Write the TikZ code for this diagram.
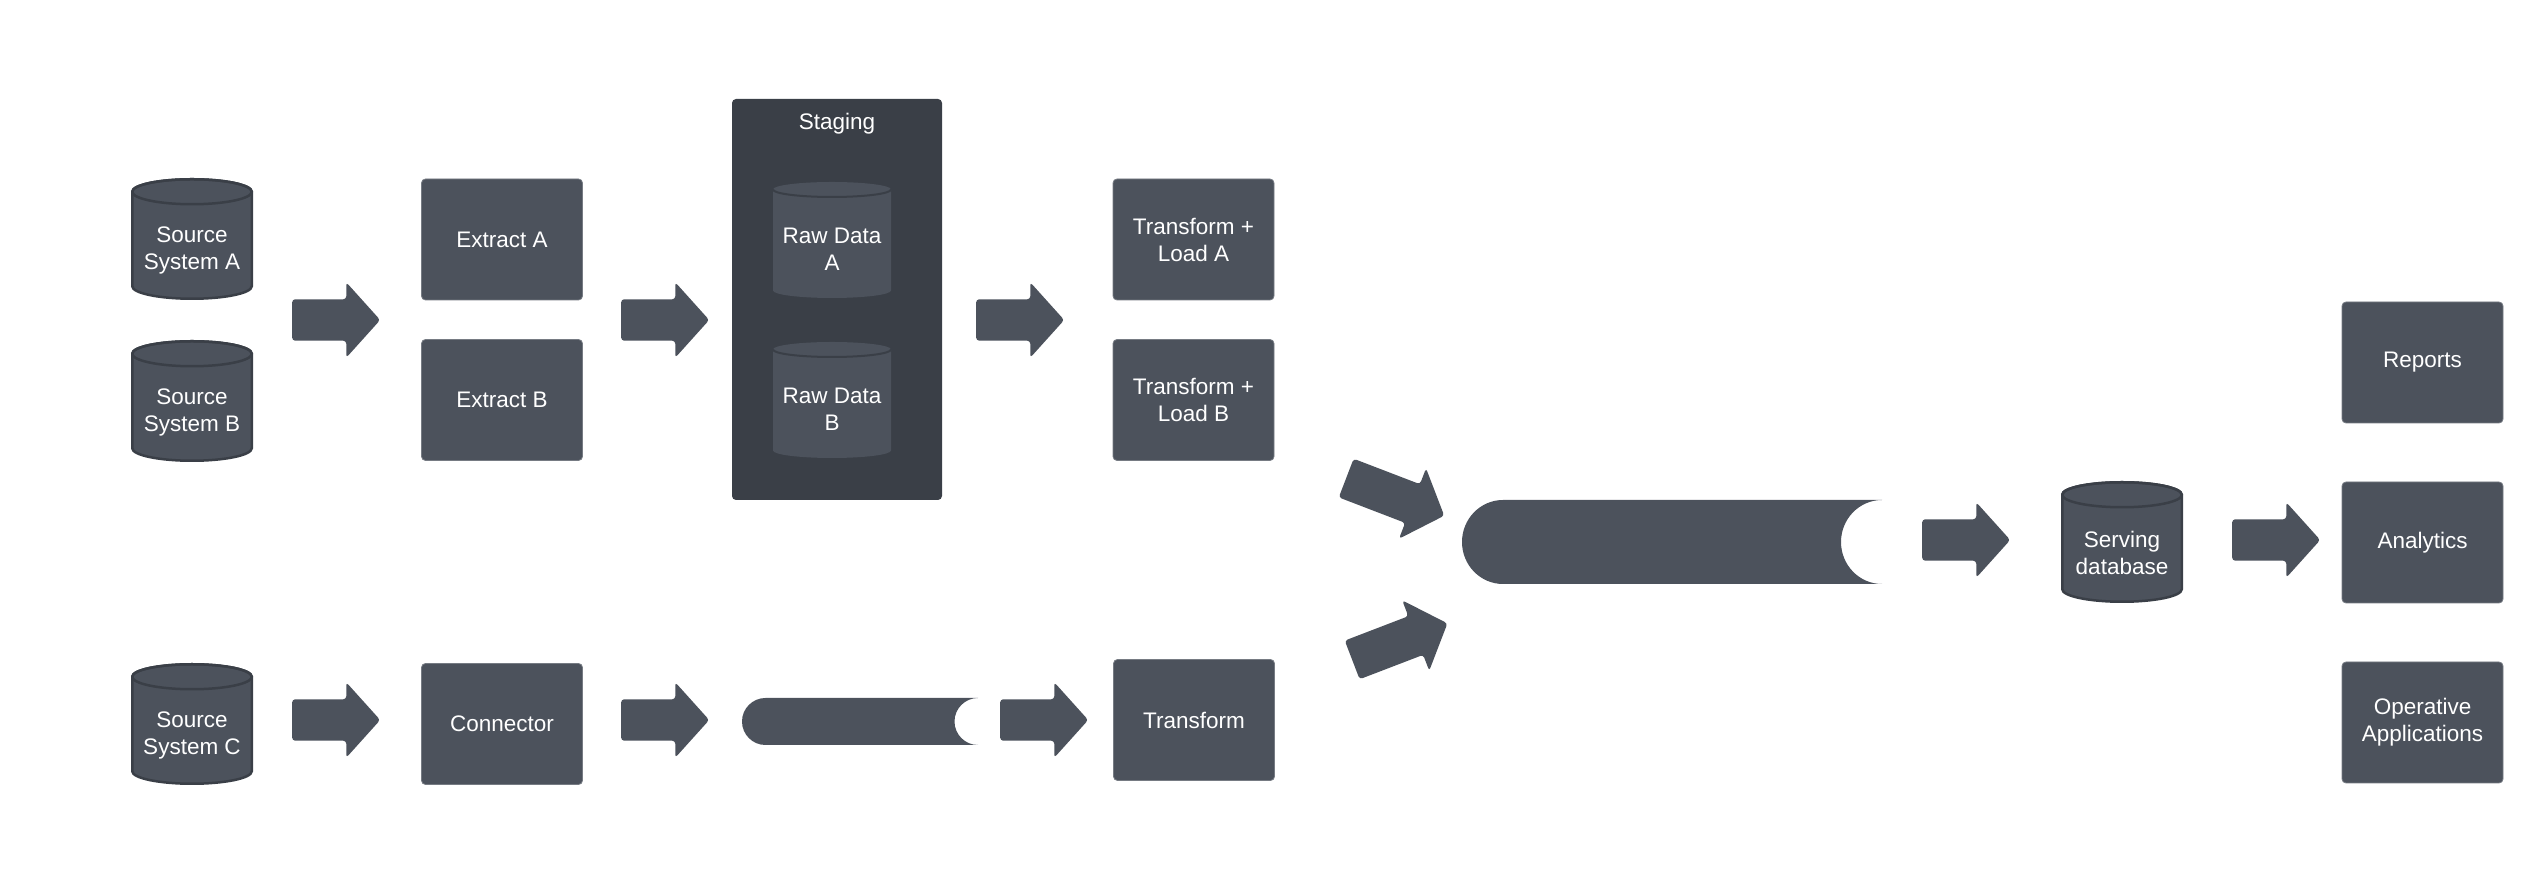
\documentclass[tikz,border=0pt]{standalone}
\usepackage{fontspec}
\setmainfont{Liberation Sans}
\usepackage{tikz}
\usetikzlibrary{shapes.arrows}
\definecolor{etlgray}{RGB}{76,82,92}
\definecolor{etldark}{RGB}{58,63,71}
\definecolor{etledge}{RGB}{118,123,131}
\newcommand\etlfont{\fontsize{22.5}{27}\selectfont}

\begin{document}
\begin{tikzpicture}[x=1pt, y=1pt,
      box/.style={draw=etledge, line width=0.8pt, fill=etlgray, text=white,
                  rounded corners=4pt, minimum width=161pt, minimum height=121pt,
                  align=center, font=\etlfont},
      db/.style={minimum width=122pt, minimum height=144pt, inner sep=0pt,
                 text=white, align=center, font=\etlfont,
                 path picture={
                   \filldraw[fill=etlgray, draw=etldark, line width=2.5pt]
                     ([shift={(-59.75pt,58.25pt)}]path picture bounding box.center)
                     -- ++(0pt,-94.5pt)
                     arc[start angle=180, end angle=360, x radius=59.75pt, y radius=12.5pt]
                     -- ++(0pt,94.5pt)
                     arc[start angle=0, end angle=180, x radius=59.75pt, y radius=12.5pt]
                     -- cycle;
                   \draw[etldark, line width=2.5pt]
                     ([yshift=58.25pt]path picture bounding box.center)
                     ellipse[x radius=59.75pt, y radius=12.5pt];
                 }},
      rawdb/.style={minimum width=118pt, minimum height=134pt, inner sep=0pt,
                 text=white, align=center, font=\etlfont,
                 path picture={
                   \fill[etlgray]
                     ([shift={(-59pt,59.5pt)}]path picture bounding box.center)
                     -- ++(0pt,-101pt)
                     arc[start angle=180, end angle=360, x radius=59pt, y radius=7.5pt]
                     -- ++(0pt,101pt)
                     arc[start angle=0, end angle=180, x radius=59pt, y radius=7.5pt]
                     -- cycle;
                   \draw[etldark, line width=2pt]
                     ([shift={(-59pt,59.5pt)}]path picture bounding box.center)
                     arc[start angle=180, end angle=360, x radius=59pt, y radius=7.5pt];
                 }},
      stage/.style={fill=etldark, rounded corners=4pt,
                    minimum width=210pt, minimum height=401pt},
      blockarr/.style={single arrow, fill=etlgray, draw=none, anchor=tail,
                       inner xsep=0pt, inner ysep=20.5pt,
                       minimum height=88pt,
                       single arrow head extend=17pt, single arrow tip angle=96,
                       rounded corners=3pt},
      pipe/.style={fill=etlgray}
    ]
    \useasboundingbox (0,0) rectangle (2542,880);

    % sources
    \node[db] (srcA) at (192,630) {Source\\System A};
    \node[db] (srcB) at (192,468) {Source\\System B};
    \node[db] (srcC) at (192,145) {Source\\System C};

    \node[box] (exA)  at (502,640.5) {Extract A};
    \node[box] (exB)  at (502,480)   {Extract B};
    \node[box] (conn) at (502,156)   {Connector};

    % staging area
    \node[stage] (stg) at (837,580.5) {};
    \node[font=\etlfont, text=white] (stgtitle) at (837,756) {Staging};
    \node[rawdb] (rawA) at (832,631) {Raw Data\\A};
    \node[rawdb] (rawB) at (832,471) {Raw Data\\B};

    \node[box] (tlA)   at (1193.5,640.5) {Transform +\\Load A};
    \node[box] (tlB)   at (1193.5,480)   {Transform +\\Load B};
    \node[box] (trans) at (1194,160)     {Transform};

    % streams
    \coordinate (smL) at (742,158.5);
    \coordinate (smR) at (978,158.5);
    \fill[pipe] ([yshift=23.5pt]smR) -- ([shift={(23.5pt,23.5pt)}]smL)
      arc[start angle=90, end angle=270, x radius=23.5pt, y radius=23.5pt]
      -- ([yshift=-23.5pt]smR)
      arc[start angle=270, end angle=90, x radius=23.5pt, y radius=23.5pt] -- cycle;

    \coordinate (bigL) at (1462,338);
    \coordinate (bigR) at (1882,338);
    \fill[pipe] ([yshift=42pt]bigR) -- ([shift={(41pt,42pt)}]bigL)
      arc[start angle=90, end angle=270, x radius=41pt, y radius=42pt]
      -- ([yshift=-42pt]bigR)
      arc[start angle=270, end angle=90, x radius=41pt, y radius=42pt] -- cycle;

    \node[db] (serve) at (2122,327) {Serving\\database};

    \node[box] (rep) at (2422.5,517.5) {Reports};
    \node[box] (ana) at (2422.5,337.5) {Analytics};
    \node[box] (ops) at (2422.5,157.5) {Operative\\Applications};

    % block arrows (placed by their tail)
    \node[blockarr] (ar1) at (292,560) {};
    \node[blockarr] (ar2) at (621,560) {};
    \node[blockarr] (ar3) at (976,560) {};
    \node[blockarr] (ar4) at (292,160) {};
    \node[blockarr] (ar5) at (621,160) {};
    \node[blockarr] (ar6) at (1000,160) {};
    \node[blockarr, minimum height=105pt, rotate=-21] (ar7) at (1346,402) {};
    \node[blockarr, minimum height=102pt, rotate=21]  (ar8) at (1352,220) {};
    \node[blockarr] (ar9)  at (1922,340) {};
    \node[blockarr] (ar10) at (2232,340) {};
  \end{tikzpicture}
\end{document}
